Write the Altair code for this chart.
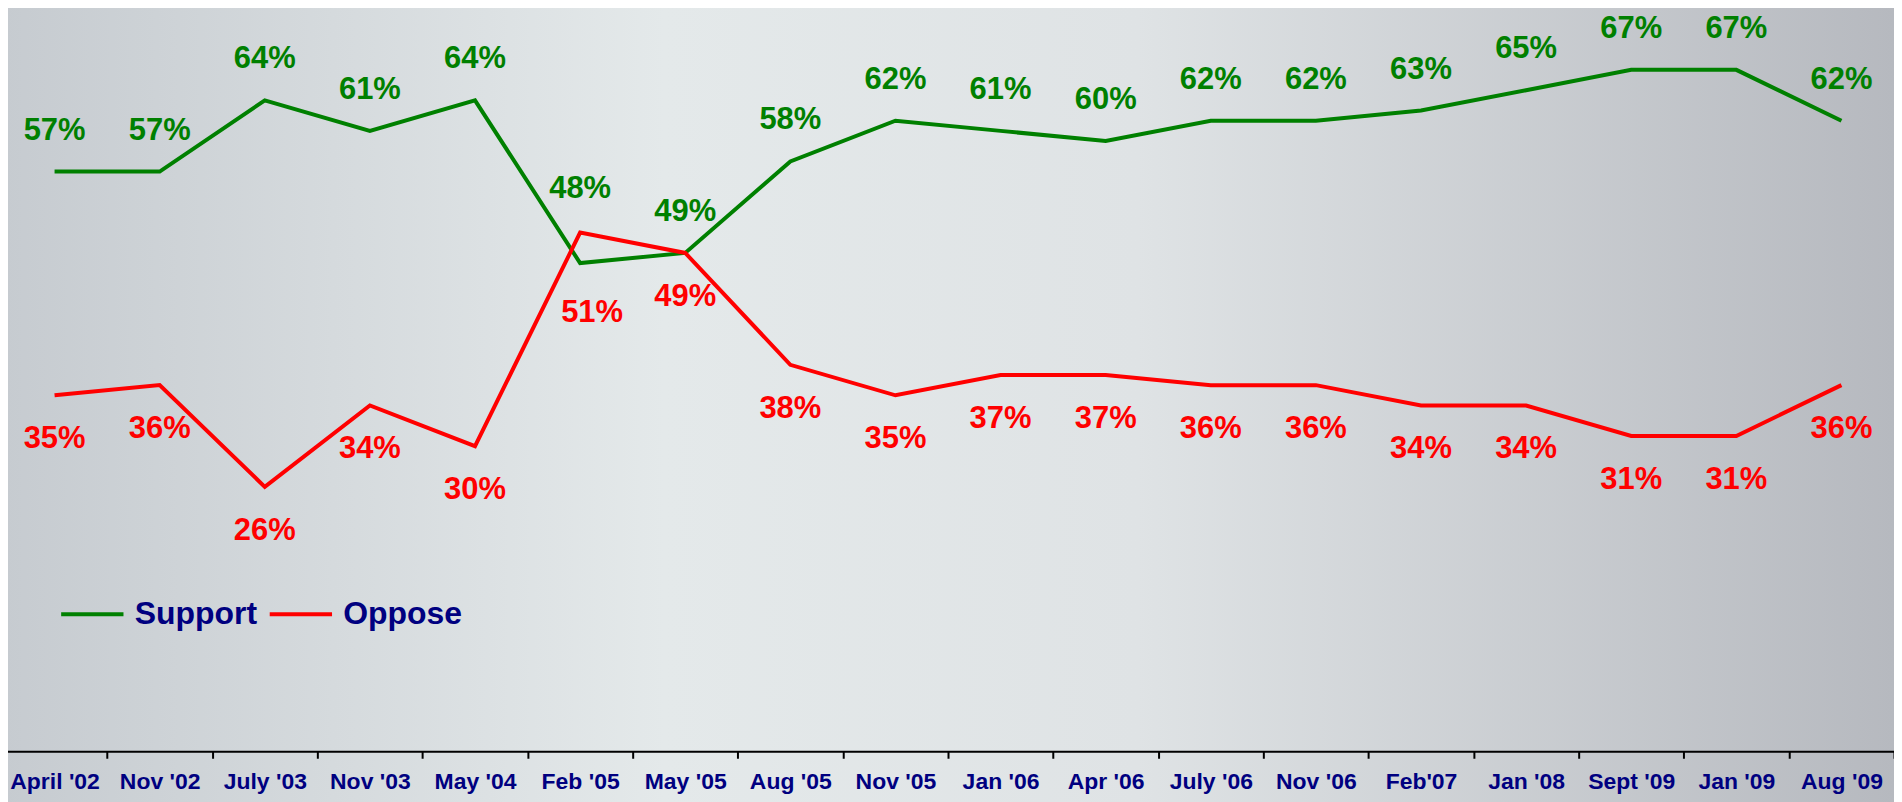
import altair as alt
import pandas as pd

cats = ["April '02", "Nov '02", "July '03", "Nov '03", "May '04", "Feb '05", "May '05",
        "Aug '05", "Nov '05", "Jan '06", "Apr '06", "July '06", "Nov '06", "Feb'07",
        "Jan '08", "Sept '09", "Jan '09", "Aug '09"]
support = [57, 57, 64, 61, 64, 48, 49, 58, 62, 61, 60, 62, 62, 63, 65, 67, 67, 62]
oppose = [35, 36, 26, 34, 30, 51, 49, 38, 35, 37, 37, 36, 36, 34, 34, 31, 31, 36]
series_names = ["Support", "Oppose"]
series_colors = ["#008000", "#ff0000"]

rows = []
for i, (c, s, o) in enumerate(zip(cats, support, oppose)):
    rows.append({"idx": i, "period": c, "series": "Support", "value": s})
    rows.append({"idx": i, "period": c, "series": "Oppose", "value": o})
df = pd.DataFrame(rows)

W, H = 1896, 744
FONT = "Liberation Sans"

x = alt.X("period:N", sort=cats,
          scale=alt.Scale(type="band", paddingInner=0, paddingOuter=0),
          axis=alt.Axis(title=None, labelAngle=0, tickBand="extent", domainColor="black",
                        domainWidth=2, tickColor="black", tickWidth=2, tickSize=7,
                        labelFont=FONT, labelFontSize=23, labelFontWeight="bold",
                        labelColor="#000080", labelPadding=12, grid=False, zindex=1))
y = alt.Y("value:Q", scale=alt.Scale(domain=[0, 73], nice=False, zero=True), axis=None)
color = alt.Color("series:N",
                  scale=alt.Scale(domain=series_names, range=series_colors),
                  legend=alt.Legend(title=None, orient="none", legendX=57, legendY=573,
                                    direction="horizontal", symbolType="stroke",
                                    symbolStrokeWidth=4, symbolSize=3900,
                                    labelFont=FONT, labelFontSize=32, labelFontWeight="bold",
                                    labelColor="#000080", labelOffset=9, columnPadding=4,
                                    padding=0, zindex=1, labelLimit=400))

grad = alt.Gradient(gradient="linear",
                    stops=[alt.GradientStop(color="#c6cbd0", offset=0),
                           alt.GradientStop(color="#e4e9ea", offset=0.35),
                           alt.GradientStop(color="#dfe3e5", offset=0.6),
                           alt.GradientStop(color="#b6b9bf", offset=1)],
                    x1=0, x2=1, y1=0, y2=0)
bg = alt.Chart(pd.DataFrame({"a": [0]})).mark_rect(color=grad, clip=False).encode(
    x=alt.value(0), x2=alt.value(W), y=alt.value(-10), y2=alt.value(H + 60))

base = alt.Chart(df).encode(x=x, y=y)
lines = base.mark_line(strokeWidth=4).encode(color=color)

txt = dict(font=FONT, fontSize=31, fontWeight="bold", baseline="alphabetic")
sup = base.transform_filter("datum.series == 'Support' && datum.idx != 5").mark_text(
    dy=-32, color="#008000", **txt).encode(text=alt.Text("lab:N")).transform_calculate(
    lab="datum.value + '%'")
sup5 = base.transform_filter("datum.series == 'Support' && datum.idx == 5").mark_text(
    dy=-65, color="#008000", **txt).encode(text=alt.Text("lab:N")).transform_calculate(
    lab="datum.value + '%'")
opp = base.transform_filter("datum.series == 'Oppose' && datum.idx != 5").mark_text(
    dy=53, color="#ff0000", **txt).encode(text=alt.Text("lab:N")).transform_calculate(
    lab="datum.value + '%'")
opp5 = base.transform_filter("datum.series == 'Oppose' && datum.idx == 5").mark_text(
    dy=90, dx=12, color="#ff0000", **txt).encode(text=alt.Text("lab:N")).transform_calculate(
    lab="datum.value + '%'")

chart = alt.layer(bg, lines, sup, sup5, opp, opp5).properties(
    width=W, height=H,
    autosize=alt.AutoSizeParams(type="none"),
    padding={"left": -6, "top": 0, "right": 0, "bottom": 50},
).configure_view(stroke=None).configure(background="#cfd3d7")

chart.save("out.html", embed_options={"renderer": "svg", "actions": False})
